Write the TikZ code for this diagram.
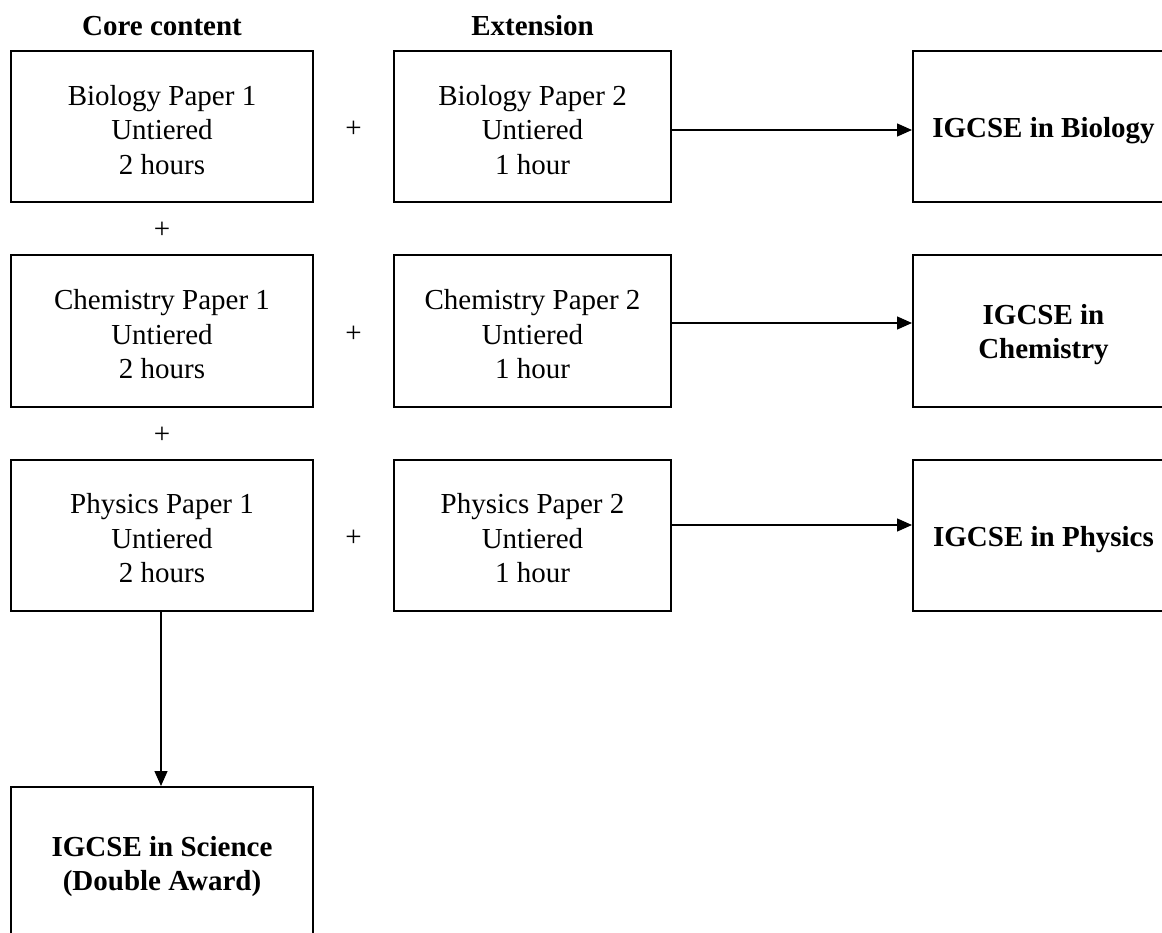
\documentclass[tikz,border=0pt]{standalone}
\usepackage{fontspec}
\setmainfont{Liberation Serif}
\usetikzlibrary{arrows.meta,calc}
\newcommand\topgap{\rule{0pt}{27pt}}
\begin{document}
\begin{tikzpicture}[x=1pt,y=-1pt,
 box/.style={draw,line width=2pt,rectangle,inner sep=0pt,align=center,minimum height=151pt,font=\fontsize{29}{34.5}\selectfont},
 corebox/.style={box,minimum width=302pt},
 extbox/.style={box,minimum width=277pt},
 resbox/.style={box,minimum width=261pt,font=\fontsize{29}{34.5}\selectfont\bfseries},
 hdr/.style={font=\fontsize{29}{34.5}\selectfont\bfseries,inner sep=0pt,anchor=base},
 plussign/.style={font=\fontsize{29}{34.5}\selectfont,inner sep=0pt},
 arr/.style={-{Triangle[length=15pt,width=13pt]},line width=1.4pt}]
\useasboundingbox (0,0) rectangle (1162,933);
\clip (0,0) rectangle (1162,933);
% headers
\node[hdr] (h1) at (162,36) {Core content};
\node[hdr] (h2) at (532.5,36) {Extension};
% core boxes
\node[corebox] (c1) at (162,126.5) {\topgap Biology Paper 1\\Untiered\\2 hours};
\node[corebox] (c2) at (162,331) {\topgap Chemistry Paper 1\\Untiered\\2 hours};
\node[corebox] (c3) at (162,535) {\topgap Physics Paper 1\\Untiered\\2 hours};
% extension boxes
\node[extbox] (e1) at (532.5,126.5) {\topgap Biology Paper 2\\Untiered\\1 hour};
\node[extbox] (e2) at (532.5,331) {\topgap Chemistry Paper 2\\Untiered\\1 hour};
\node[extbox] (e3) at (532.5,535) {\topgap Physics Paper 2\\Untiered\\1 hour};
% result boxes
\node[resbox] (r1) at (1043.5,126.5) {\rule{0pt}{29pt}IGCSE in Biology};
\node[resbox] (r2) at (1043.5,331) {\topgap IGCSE in\\Chemistry};
\node[resbox] (r3) at (1043.5,535) {\rule{0pt}{29pt}IGCSE in Physics};
\node[box,minimum width=302pt,minimum height=152pt,font=\fontsize{29}{34.5}\selectfont\bfseries] (s) at (162,863) {\topgap IGCSE in Science\\(Double Award)};
% plus signs
\node[plussign,yshift=-3pt] (p1) at ($(c1.east)!0.5!(e1.west)$) {+};
\node[plussign,yshift=-3pt] (p2) at ($(c2.east)!0.5!(e2.west)$) {+};
\node[plussign,yshift=-3pt] (p3) at ($(c3.east)!0.5!(e3.west)$) {+};
\node[plussign,yshift=-2pt] (q1) at ($(c1.south)!0.5!(c2.north)$) {+};
\node[plussign,yshift=-2pt] (q2) at ($(c2.south)!0.5!(c3.north)$) {+};
% arrows
\draw[arr] ([yshift=-3.5pt]e1.east) -- ([yshift=-3.5pt]e1.east -| r1.west);
\draw[arr] ([yshift=8pt]e2.east) -- ([yshift=8pt]e2.east -| r2.west);
\draw[arr] ([yshift=10pt]e3.east) -- ([yshift=10pt]e3.east -| r3.west);
\draw[arr] ([xshift=-1pt]c3.south) -- ([xshift=-1pt]s.north);
\end{tikzpicture}
\end{document}
